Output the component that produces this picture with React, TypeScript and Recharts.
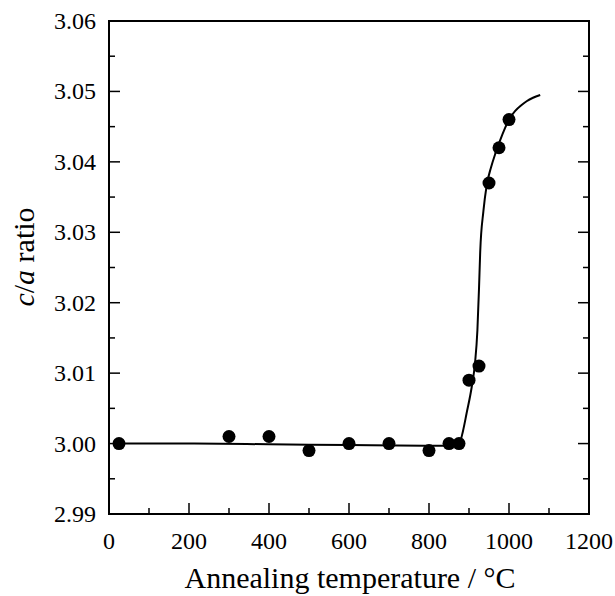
import React from 'react';
import { ComposedChart, Line, Scatter, XAxis, YAxis, ReferenceArea } from 'recharts';

// Measured points
const tempC = [25, 300, 400, 500, 600, 700, 800, 850, 875, 900, 925, 950, 975, 1000];
const caRatio = [3.0, 3.001, 3.001, 2.999, 3.0, 3.0, 2.999, 3.0, 3.0, 3.009, 3.011, 3.037, 3.042, 3.046];

// Fitted curve
const fitTemp = [25, 200, 400, 600, 800, 860, 875, 885, 894, 907, 915, 921, 925, 928, 936, 944, 955, 966, 978, 990, 1000, 1015, 1030, 1044, 1060, 1078];
const fitRatio = [3.0, 3.0, 2.9999, 2.9998, 2.9997, 2.9997, 2.9999, 3.0018, 3.0043, 3.0081, 3.0114, 3.0161, 3.022, 3.0272, 3.0330, 3.0366, 3.0392, 3.0412, 3.0431, 3.0448, 3.0460, 3.0472, 3.0480, 3.0486, 3.0491, 3.0495];

const xTicks = [0, 100, 200, 300, 400, 500, 600, 700, 800, 900, 1000, 1100, 1200];
const yTicks = [2.99, 2.995, 3.0, 3.005, 3.01, 3.015, 3.02, 3.025, 3.03, 3.035, 3.04, 3.045, 3.05, 3.055, 3.06];

const pointData = tempC.map((t, i) => ({ t, v: caRatio[i] }));
const fitData = fitTemp.map((t, i) => ({ t, v: fitRatio[i] }));

const W = 615;
const H = 596;
const M = { top: 21, right: 26, left: 0, bottom: 0 };
const Y_AXIS_W = 109;
const X_AXIS_H = H - 514;
const PLOT_W = W - M.left - Y_AXIS_W - M.right;
const FONT = "'Liberation Serif', Tinos, 'Times New Roman', 'DejaVu Serif', serif";
const TXT: React.CSSProperties = { fontFamily: FONT };
const Y_MARGIN = 13;
const X_MARGIN = 35;

const YTick = (props: any) => {
  const { x, y, payload } = props;
  const v = payload.value as number;
  const major = Math.round(v * 1000) % 10 === 0;
  const ax = x + Y_MARGIN;
  const len = major ? 11 : 6;
  return (
    <g>
      <line x1={ax} x2={ax + len} y1={y} y2={y} stroke="#000" strokeWidth={1.5} />
      <line x1={ax + PLOT_W - len} x2={ax + PLOT_W} y1={y} y2={y} stroke="#000" strokeWidth={1.5} />
      {major && (
        <text x={x} y={y + 8} textAnchor="end" style={TXT} fontSize={24} fill="#000">
          {v.toFixed(2)}
        </text>
      )}
    </g>
  );
};

const XTick = (props: any) => {
  const { x, y, payload } = props;
  const v = payload.value as number;
  const major = v % 200 === 0;
  const ay = y - X_MARGIN;
  const len = major ? 11 : 6;
  return (
    <g>
      <line x1={x} x2={x} y1={ay} y2={ay - len} stroke="#000" strokeWidth={1.5} />
      {major && (
        <text x={x} y={ay + 35} textAnchor="middle" style={TXT} fontSize={24} fill="#000">
          {v}
        </text>
      )}
    </g>
  );
};

const XTitle = () => (
  <text x={350} y={588} textAnchor="middle" style={TXT} fontSize={30} fill="#000">
    Annealing temperature / °C
  </text>
);

const YTitle = () => (
  <text
    x={34}
    y={257}
    transform="rotate(-90 34 257)"
    textAnchor="middle"
    style={TXT}
    fontSize={30}
    fill="#000"
  >
    <tspan fontStyle="italic">c</tspan>
    <tspan>/</tspan>
    <tspan fontStyle="italic">a</tspan>
    <tspan> ratio</tspan>
  </text>
);

export default function App() {
  return (
    <div style={{ position: 'absolute', left: 0, top: 0, width: W, height: H, background: '#fff', fontFamily: FONT }}>
      <ComposedChart width={W} height={H} margin={M} style={{ fontFamily: FONT }}>
        <XAxis
          dataKey="t"
          type="number"
          domain={[0, 1200]}
          ticks={xTicks}
          interval={0}
          allowDataOverflow
          height={X_AXIS_H}
          tickSize={0}
          tickMargin={X_MARGIN}
          tickLine={false}
          axisLine={{ stroke: '#000', strokeWidth: 2 }}
          tick={<XTick />}
          label={{ content: () => <XTitle /> }}
        />
        <YAxis
          dataKey="v"
          type="number"
          domain={[2.99, 3.06]}
          ticks={yTicks}
          interval={0}
          allowDataOverflow
          width={Y_AXIS_W}
          tickSize={0}
          tickMargin={Y_MARGIN}
          tickLine={false}
          axisLine={{ stroke: '#000', strokeWidth: 2 }}
          tick={<YTick />}
          label={{ content: () => <YTitle /> }}
        />
        <ReferenceArea
          x1={0}
          x2={1200}
          y1={2.99}
          y2={3.06}
          fill="none"
          fillOpacity={0}
          stroke="#000"
          strokeWidth={2}
          ifOverflow="visible"
        />
        <Line
          data={fitData}
          dataKey="v"
          type="monotone"
          stroke="#000"
          strokeWidth={2}
          dot={false}
          activeDot={false}
          isAnimationActive={false}
        />
        <Scatter
          data={pointData}
          dataKey="v"
          fill="#000"
          shape={(p: any) => <circle cx={p.cx} cy={p.cy} r={6.5} fill="#000" />}
          isAnimationActive={false}
        />
      </ComposedChart>
    </div>
  );
}
